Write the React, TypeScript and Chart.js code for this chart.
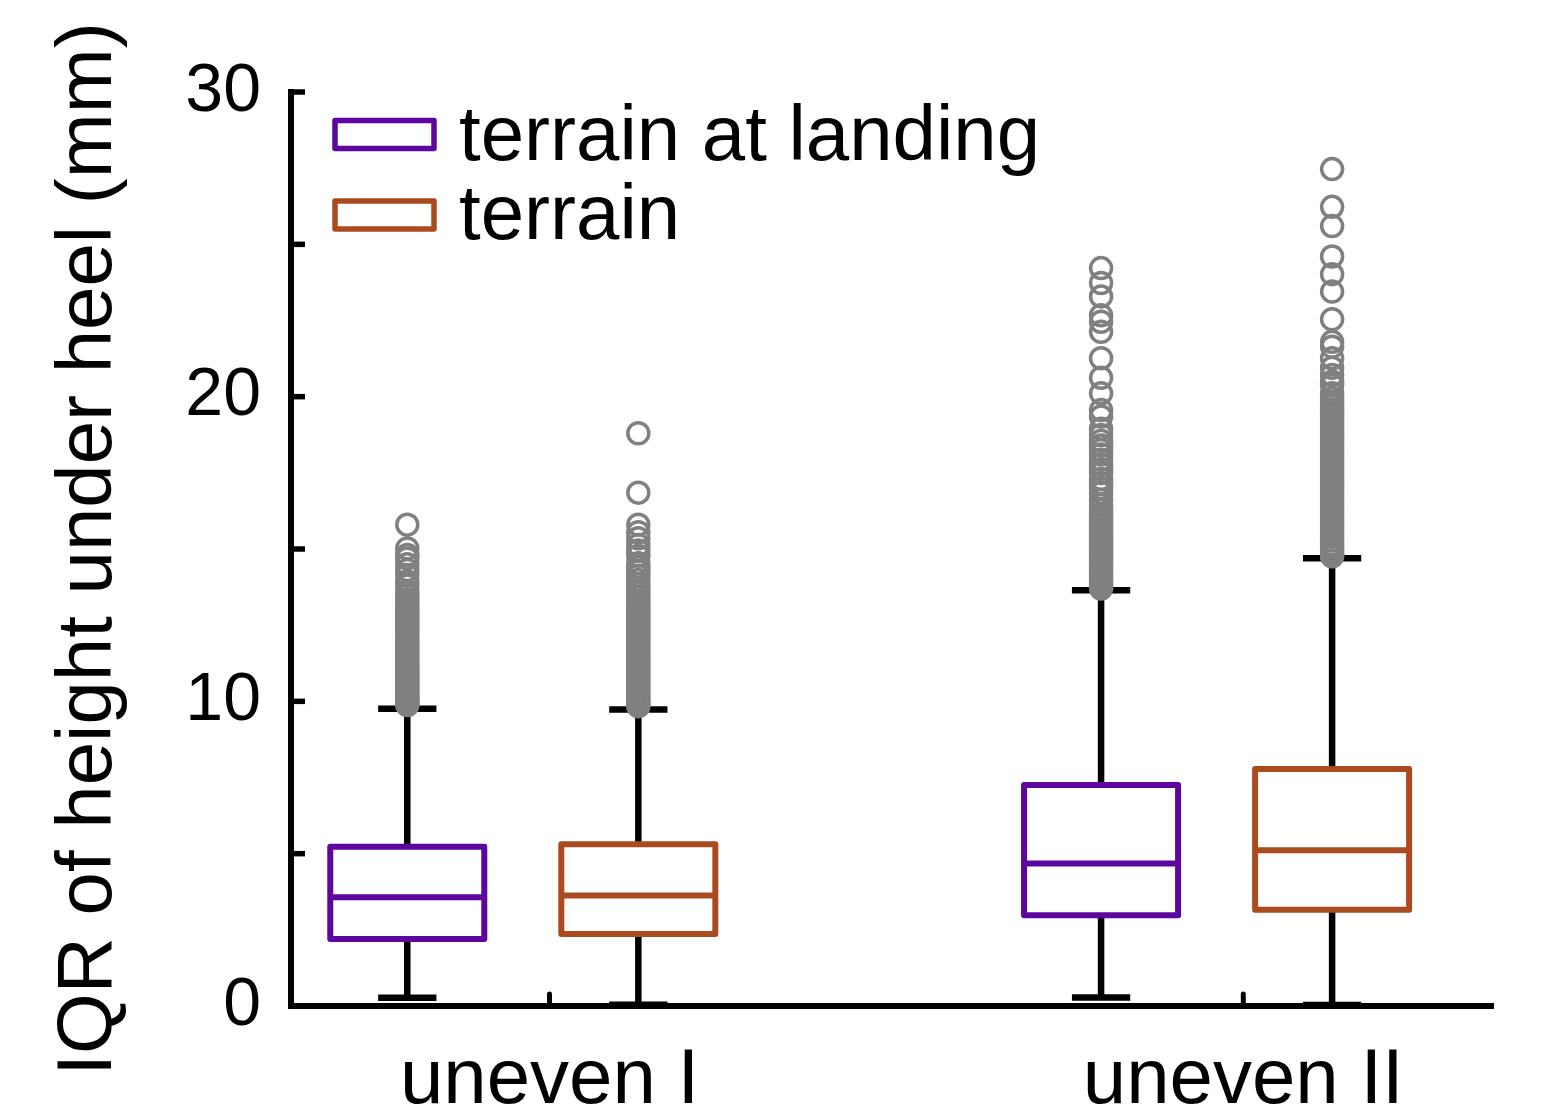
import React, { useEffect, useRef } from 'react';
import { Chart, registerables } from 'chart.js';

Chart.register(...registerables);

// ---------- data ----------
const categories = ['uneven I', 'uneven II'];
const seriesLabels = ['terrain at landing', 'terrain'];

// terrain at landing: [uneven I, uneven II]
const landingLowerWhisker = [0.27, 0.28];
const landingQ1 = [2.2, 2.98];
const landingMedian = [3.57, 4.68];
const landingQ3 = [5.23, 7.25];
const landingUpperWhisker = [9.76, 13.65];

// terrain: [uneven I, uneven II]
const terrainLowerWhisker = [0.04, 0.03];
const terrainQ1 = [2.36, 3.16];
const terrainMedian = [3.63, 5.11];
const terrainQ3 = [5.31, 7.78];
const terrainUpperWhisker = [9.73, 14.7];

const landingOutliersI = [
  15.8, 15.02, 14.8, 14.69, 14.5, 14.31, 14.15, 13.93, 13.8, 13.6, 13.48, 13.35, 13.22, 13.1, 13.0,
  12.9, 12.78, 12.68, 12.56, 12.45, 12.34, 12.24, 12.12, 12.02, 11.9, 11.8, 11.68, 11.58, 11.47,
  11.36, 11.25, 11.15, 11.05, 10.96, 10.88, 10.79, 10.7, 10.61, 10.52, 10.44, 10.35, 10.26, 10.18,
  10.1, 10.04, 9.99, 9.93, 9.88,
];
const landingOutliersII = [
  24.22, 23.73, 23.29, 22.67, 22.46, 22.13, 21.26, 20.62, 20.11, 19.56, 19.35, 18.95, 18.74, 18.55,
  18.4, 18.25, 18.1, 17.93, 17.78, 17.62, 17.49, 17.3, 17.16, 17.0, 16.85, 16.62, 16.45, 16.3, 16.15,
  16.07, 15.95, 15.85, 15.75, 15.63, 15.52, 15.42, 15.32, 15.22, 15.12, 15.02, 14.92, 14.82, 14.72,
  14.62, 14.52, 14.42, 14.32, 14.22, 14.12, 14.02, 13.92, 13.84, 13.76, 13.7,
];
const terrainOutliersI = [
  18.8, 16.85, 15.8, 15.55, 15.35, 15.13, 14.95, 14.78, 14.53, 14.4, 14.27, 14.12, 13.98, 13.84,
  13.7, 13.57, 13.44, 13.31, 13.2, 13.08, 12.96, 12.85, 12.73, 12.62, 12.5, 12.4, 12.29, 12.18,
  12.07, 11.96, 11.85, 11.74, 11.63, 11.52, 11.42, 11.31, 11.2, 11.1, 10.99, 10.89, 10.79, 10.68,
  10.58, 10.48, 10.38, 10.28, 10.18, 10.08, 9.99, 9.91, 9.84,
];
const terrainOutliersII = [
  27.47, 26.23, 25.6, 24.6, 24.02, 23.45, 22.54, 21.8, 21.64, 21.26, 20.95, 20.71, 20.5, 20.38,
  20.11, 19.95, 19.82, 19.7, 19.58, 19.46, 19.35, 19.24, 19.12, 19.0, 18.88, 18.76, 18.64, 18.52,
  18.4, 18.28, 18.16, 18.04, 17.92, 17.8, 17.68, 17.56, 17.44, 17.32, 17.2, 17.08, 16.96, 16.84,
  16.72, 16.6, 16.48, 16.36, 16.24, 16.12, 16.0, 15.88, 15.76, 15.64, 15.52, 15.4, 15.28, 15.16,
  15.05, 14.94, 14.84, 14.76,
];

const yMin = 0;
const yMax = 30;
const yStep = 5;
const yLabelEvery = 10;
const yTitle = 'IQR of height under heel (mm)';

// ---------- styling / layout ----------
const FONT = "'Liberation Sans', Arial, Helvetica, sans-serif";
const SERIES_COLORS = ['#5c069f', '#aa4a1f'];
const OUTLIER_COLOR = '#808080';
const SERIES_OFFSET = [-0.205, 0.128];
const BOX_WIDTH = 0.222;
const CAP_WIDTH = 0.084;
const X_MIN = 0.6274;
const X_MAX = 2.3599;

const stats = [
  { lw: landingLowerWhisker, q1: landingQ1, med: landingMedian, q3: landingQ3, uw: landingUpperWhisker },
  { lw: terrainLowerWhisker, q1: terrainQ1, med: terrainMedian, q3: terrainQ3, uw: terrainUpperWhisker },
];
const outliers = [
  [landingOutliersI, landingOutliersII],
  [terrainOutliersI, terrainOutliersII],
];

const boxPlugin = {
  id: 'boxes',
  beforeDatasetsDraw(chart: any) {
    const { ctx } = chart;
    const x = chart.scales.x;
    const y = chart.scales.y;
    stats.forEach((st, s) => {
      categories.forEach((_, i) => {
        const cx = i + 1 + SERIES_OFFSET[s];
        const px = x.getPixelForValue(cx);
        const left = x.getPixelForValue(cx - BOX_WIDTH / 2);
        const right = x.getPixelForValue(cx + BOX_WIDTH / 2);
        const capL = x.getPixelForValue(cx - CAP_WIDTH / 2);
        const capR = x.getPixelForValue(cx + CAP_WIDTH / 2);
        const yLw = y.getPixelForValue(st.lw[i]);
        const yQ1 = y.getPixelForValue(st.q1[i]);
        const yMed = y.getPixelForValue(st.med[i]);
        const yQ3 = y.getPixelForValue(st.q3[i]);
        const yUw = y.getPixelForValue(st.uw[i]);
        ctx.save();
        ctx.strokeStyle = '#000';
        ctx.lineWidth = 6.5;
        ctx.lineCap = 'butt';
        ctx.beginPath();
        ctx.moveTo(px, yQ3);
        ctx.lineTo(px, yUw);
        ctx.moveTo(px, yQ1);
        ctx.lineTo(px, yLw);
        ctx.moveTo(capL, yUw);
        ctx.lineTo(capR, yUw);
        ctx.moveTo(capL, yLw);
        ctx.lineTo(capR, yLw);
        ctx.stroke();
        ctx.strokeStyle = SERIES_COLORS[s];
        ctx.lineWidth = 6;
        ctx.lineJoin = 'round';
        ctx.strokeRect(left, yQ3, right - left, yQ1 - yQ3);
        ctx.beginPath();
        ctx.moveTo(left, yMed);
        ctx.lineTo(right, yMed);
        ctx.stroke();
        ctx.restore();
      });
    });
  },
};

const axisTickPlugin = {
  id: 'insideTicks',
  afterDraw(chart: any) {
    const { ctx, chartArea } = chart;
    const x = chart.scales.x;
    const y = chart.scales.y;
    ctx.save();
    ctx.strokeStyle = '#000';
    ctx.lineWidth = 5.5;
    ctx.lineCap = 'butt';
    y.ticks.forEach((t: any) => {
      const py = y.getPixelForValue(t.value);
      ctx.beginPath();
      ctx.moveTo(chartArea.left, py);
      ctx.lineTo(chartArea.left + 14, py);
      ctx.stroke();
    });
    ctx.lineCap = 'round';
    ctx.lineWidth = 5;
    x.ticks.forEach((t: any) => {
      const px = x.getPixelForValue(t.value);
      ctx.beginPath();
      ctx.moveTo(px, chartArea.bottom);
      ctx.lineTo(px, chartArea.bottom - 12);
      ctx.stroke();
    });
    ctx.restore();
  },
};

const legendPlugin = {
  id: 'boxLegend',
  afterDraw(chart: any) {
    const { ctx, chartArea } = chart;
    ctx.save();
    seriesLabels.forEach((label, s) => {
      const boxLeft = chartArea.left + 44;
      const boxTop = chartArea.top + 28.5 + s * 80.5;
      ctx.strokeStyle = SERIES_COLORS[s];
      ctx.lineWidth = 5.5;
      ctx.lineJoin = 'round';
      ctx.strokeRect(boxLeft, boxTop, 99, 28);
      ctx.fillStyle = '#000';
      ctx.font = `78px ${FONT}`;
      ctx.textBaseline = 'alphabetic';
      ctx.textAlign = 'left';
      ctx.fillText(label, chartArea.left + 168, chartArea.top + 68 + s * 79);
    });
    ctx.restore();
  },
};

export default function App() {
  const canvasRef = useRef<HTMLCanvasElement | null>(null);

  useEffect(() => {
    if (!canvasRef.current) return;
    const datasets = seriesLabels.map((label, s) => ({
      label,
      data: categories.flatMap((_, i) =>
        outliers[s][i].map((v) => ({ x: i + 1 + SERIES_OFFSET[s], y: v }))
      ),
      showLine: false,
      pointStyle: 'circle',
      pointRadius: 10.5,
      pointHoverRadius: 10.5,
      pointBorderWidth: 3.5,
      borderColor: OUTLIER_COLOR,
      backgroundColor: 'rgba(0,0,0,0)',
      clip: false as any,
    }));

    const chart = new Chart(canvasRef.current, {
      type: 'scatter',
      data: { datasets: datasets as any },
      options: {
        responsive: false,
        animation: false,
        events: [],
        layout: { padding: { top: 92, right: 50, left: 0, bottom: 0 } },
        plugins: { legend: { display: false }, tooltip: { enabled: false } },
        scales: {
          x: {
            type: 'linear',
            min: X_MIN,
            max: X_MAX,
            afterBuildTicks: (sc: any) => {
              sc.ticks = categories.map((_, i) => ({ value: i + 1 }));
            },
            afterFit: (sc: any) => {
              sc.height = 113;
            },
            grid: { display: true, drawOnChartArea: false, drawTicks: false, color: 'rgba(0,0,0,0)' },
            border: { display: true, color: '#000', width: 6 },
            ticks: {
              autoSkip: false,
              maxRotation: 0,
              minRotation: 0,
              color: '#000',
              padding: 29,
              font: { family: FONT, size: 78 },
              callback: (v: any) => categories[Math.round(Number(v)) - 1] ?? '',
            },
          },
          y: {
            type: 'linear',
            min: yMin,
            max: yMax,
            afterFit: (sc: any) => {
              sc.width = 291;
            },
            grid: { display: true, drawOnChartArea: false, drawTicks: false, color: 'rgba(0,0,0,0)' },
            border: { display: true, color: '#000', width: 6 },
            ticks: {
              stepSize: yStep,
              color: '#000',
              padding: 30,
              font: { family: FONT, size: 68 },
              callback: (v: any) => (Number(v) % yLabelEvery === 0 ? String(v) : ''),
            },
            title: {
              display: true,
              text: yTitle,
              color: '#000',
              font: { family: FONT, size: 78 },
              padding: { top: 43, bottom: 0 },
            },
          },
        },
      },
      plugins: [boxPlugin, axisTickPlugin, legendPlugin],
    });
    return () => chart.destroy();
  }, []);

  return (
    <div style={{ position: 'absolute', left: 0, top: 0, width: 1543, height: 1119, background: '#fff' }}>
      <canvas ref={canvasRef} width={1543} height={1119} style={{ display: 'block' }} />
    </div>
  );
}
